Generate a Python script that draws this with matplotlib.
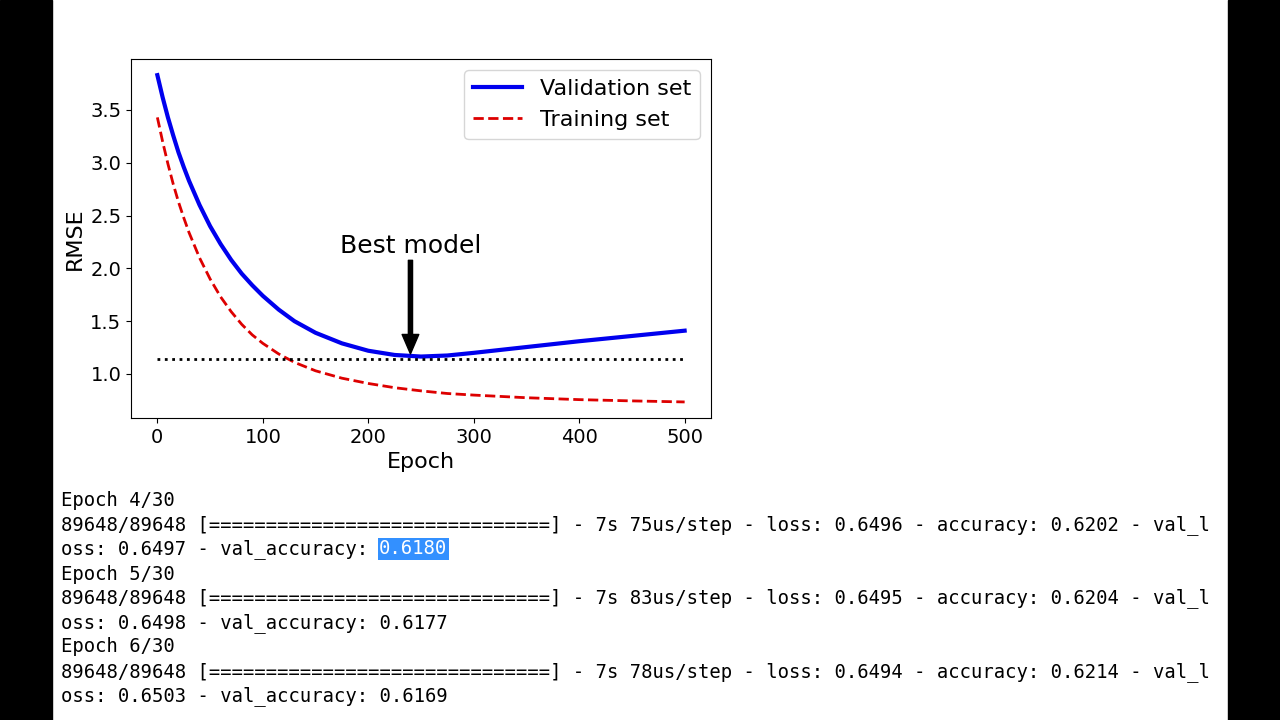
import numpy as np
import matplotlib
matplotlib.use("Agg")
import matplotlib.pyplot as plt
from matplotlib.patches import Rectangle

epochs = [0, 5, 10, 15, 20, 25, 30, 40, 50, 60, 70, 80, 90, 100, 115, 130, 150, 175, 200, 225, 250, 275, 300, 350, 400, 450, 500]
val_rmse = [3.83, 3.62, 3.43, 3.26, 3.10, 2.96, 2.83, 2.60, 2.40, 2.23, 2.08, 1.95, 1.84, 1.74, 1.61, 1.50, 1.39, 1.29, 1.22, 1.18, 1.165, 1.175, 1.20, 1.255, 1.31, 1.36, 1.41]
train_rmse = [3.43, 3.20, 2.99, 2.80, 2.63, 2.48, 2.34, 2.10, 1.90, 1.73, 1.59, 1.47, 1.37, 1.29, 1.19, 1.11, 1.03, 0.96, 0.91, 0.87, 0.84, 0.815, 0.80, 0.775, 0.757, 0.745, 0.735]
best_level = 1.14
best_epoch = 240

log_lines = [
    "Epoch 4/30",
    "89648/89648 [==============================] - 7s 75us/step - loss: 0.6496 - accuracy: 0.6202 - val_l",
    "oss: 0.6497 - val_accuracy: ",
    "Epoch 5/30",
    "89648/89648 [==============================] - 7s 83us/step - loss: 0.6495 - accuracy: 0.6204 - val_l",
    "oss: 0.6498 - val_accuracy: 0.6177",
    "Epoch 6/30",
    "89648/89648 [==============================] - 7s 78us/step - loss: 0.6494 - accuracy: 0.6214 - val_l",
    "oss: 0.6503 - val_accuracy: 0.6169",
]
highlight = "0.6180"

fig = plt.figure(figsize=(12.8, 7.2), dpi=100)
fig.patch.set_facecolor("white")
fig.patches.append(Rectangle((0, 0), 52/1280, 1, transform=fig.transFigure, color="black"))
fig.patches.append(Rectangle((1228/1280, 0), 52/1280, 1, transform=fig.transFigure, color="black"))

ax = fig.add_axes([131/1280, 1-418/720, 580/1280, 359/720])
ax.plot(epochs, val_rmse, color="#0000ee", lw=3, label="Validation set")
ax.plot(epochs, train_rmse, "--", color="#dd0000", lw=2, label="Training set")
ax.plot([0, 500], [best_level, best_level], ":", color="black", lw=2)
ax.annotate("Best model", xy=(best_epoch, 1.19), xytext=(best_epoch, 2.15), ha="center",
            fontsize=18, arrowprops=dict(facecolor="black", width=3, headwidth=12, headlength=14, shrink=0.0))
ax.set_xlim(-25, 525)
ax.set_ylim(0.583, 3.983)
ax.set_yticks([1.0, 1.5, 2.0, 2.5, 3.0, 3.5])
ax.set_xticks([0, 100, 200, 300, 400, 500])
ax.tick_params(labelsize=14)
ax.set_xlabel("Epoch", fontsize=16)
ax.set_ylabel("RMSE", fontsize=16)
ax.legend(loc="upper right", fontsize=16, handlelength=2.2)

ys = [500, 525, 549, 574, 598, 623, 647, 672, 696]
for y, line in zip(ys, log_lines):
    fig.text(61/1280, 1-y/720, line, family="DejaVu Sans Mono", fontsize=13.6, va="center", ha="left")
fig.text(379/1280, 1-549/720, highlight, family="DejaVu Sans Mono", fontsize=13.6, va="center", ha="left",
         color="white", bbox=dict(facecolor="#3390ff", edgecolor="none", pad=1))

fig.savefig("out.png", dpi=100, facecolor=fig.get_facecolor())
